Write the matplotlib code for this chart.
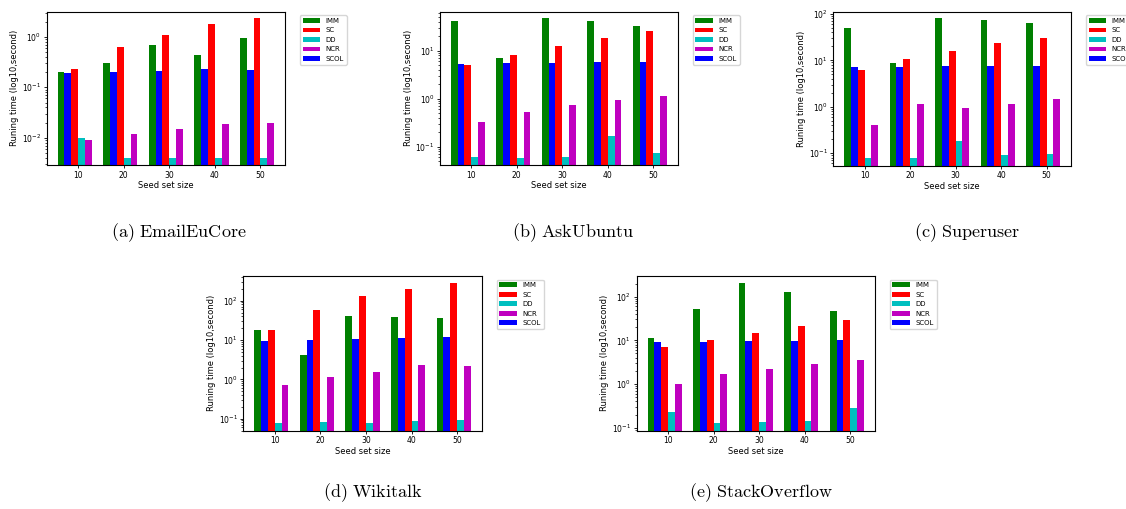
import numpy as np
import matplotlib
matplotlib.use("Agg")
import matplotlib.pyplot as plt

# ---------- данные ----------
seeds = [10, 20, 30, 40, 50]
methods = ["IMM", "SC", "DD", "NCR", "SCOL"]
colors = {"IMM": "g", "SC": "r", "DD": "c", "NCR": "m", "SCOL": "b"}
# место столбика в группе (в ширинах столбика от метки)
slot = {"IMM": -2.5, "SCOL": -1.5, "SC": -0.5, "DD": 0.5, "NCR": 1.5}

email = {
    "IMM": [0.203, 0.305, 0.684, 0.427, 0.94],
    "SC": [0.229, 0.615, 1.08, 1.75, 2.34],
    "DD": [0.010, 0.004, 0.004, 0.004, 0.004],
    "NCR": [0.0089, 0.0118, 0.0149, 0.0184, 0.0198],
    "SCOL": [0.188, 0.200, 0.209, 0.225, 0.222],
}
askubuntu = {
    "IMM": [42.2, 7.15, 47.9, 40.8, 32.1],
    "SC": [4.95, 8.26, 12.5, 18.7, 25.3],
    "DD": [0.062, 0.058, 0.062, 0.169, 0.0726],
    "NCR": [0.327, 0.527, 0.738, 0.923, 1.12],
    "SCOL": [5.19, 5.44, 5.53, 5.80, 5.80],
}
superuser = {
    "IMM": [49.0, 8.75, 80.5, 72.9, 63.9],
    "SC": [6.08, 10.7, 16.2, 24.1, 30.9],
    "DD": [0.0767, 0.0767, 0.179, 0.092, 0.0968],
    "NCR": [0.409, 1.16, 0.935, 1.16, 1.46],
    "SCOL": [7.06, 7.06, 7.42, 7.55, 7.55],
}
wikitalk = {
    "IMM": [17.9, 4.07, 40.7, 38.5, 37.0],
    "SC": [17.9, 56.8, 131, 202, 281],
    "DD": [0.076, 0.0807, 0.079, 0.0855, 0.0907],
    "NCR": [0.718, 1.12, 1.54, 2.31, 2.22],
    "SCOL": [9.25, 10.0, 10.8, 11.2, 11.9],
}
stackoverflow = {
    "IMM": [11.3, 52.3, 206, 126, 47.7],
    "SC": [7.03, 10.0, 14.5, 21.3, 29.7],
    "DD": [0.229, 0.128, 0.133, 0.140, 0.287],
    "NCR": [1.0, 1.69, 2.21, 2.87, 3.55],
    "SCOL": [9.0, 9.16, 9.66, 9.66, 10.2],
}

captions = ["(a) EmailEuCore", "(b) AskUbuntu", "(c) Superuser",
            "(d) Wikitalk", "(e) StackOverflow"]
datasets = [email, askubuntu, superuser, wikitalk, stackoverflow]
ylims = [(0.0029, 3.13), (0.0416, 65), (0.0533, 112), (0.0495, 424), (0.0853, 297)]

W, H = 1126, 509
# рамки осей в пикселях: левый, правый, верх, низ
boxes = [(46.7, 285.0, 11.7, 165.0),
         (440.0, 677.7, 11.7, 165.0),
         (833.3, 1071.0, 11.7, 165.7),
         (243.3, 481.7, 276.0, 430.7),
         (636.7, 874.7, 276.0, 430.7)]
cap_pos = [(178.7, 233), (573, 233), (967, 233), (373, 493), (761, 493)]

fig = plt.figure(figsize=(W / 100, H / 100), dpi=100)
w = 0.15
x = np.arange(len(seeds))

for data, box, lim in zip(datasets, boxes, ylims):
    l, r, t, b = box
    ax = fig.add_axes([l / W, 1 - b / H, (r - l) / W, (b - t) / H])
    for m in methods:
        ax.bar(x + slot[m] * w, data[m], w, color=colors[m], label=m)
    ax.set_yscale("log")
    ax.set_ylim(*lim)
    ax.set_xticks(x)
    ax.set_xticklabels([str(s) for s in seeds])
    ax.tick_params(labelsize=5.5, length=2.5, width=0.6, pad=1.5)
    ax.tick_params(which="minor", length=1.5, width=0.5)
    ax.set_xlabel("Seed set size", fontsize=6, labelpad=1)
    ax.set_ylabel("Runing time (log10,second)", fontsize=6, labelpad=2)
    for s in ax.spines.values():
        s.set_linewidth(0.8)
    axw, axh = r - l, b - t
    # легенда справа от осей; у (c) она обрезается краем, как в оригинале
    ax.legend(loc="upper left", bbox_to_anchor=(1 + 15 / axw, 1 - 3.5 / axh),
              borderaxespad=0, fontsize=5, handlelength=2.5, fancybox=True)

for txt, (cx, cy) in zip(captions, cap_pos):
    fig.text(cx / W, 1 - cy / H, r"$\mathrm{" + txt.replace(" ", r"\ ") + "}$",
             ha="center", va="center", fontsize=13, math_fontfamily="cm")

fig.savefig("out.png", dpi=100)
